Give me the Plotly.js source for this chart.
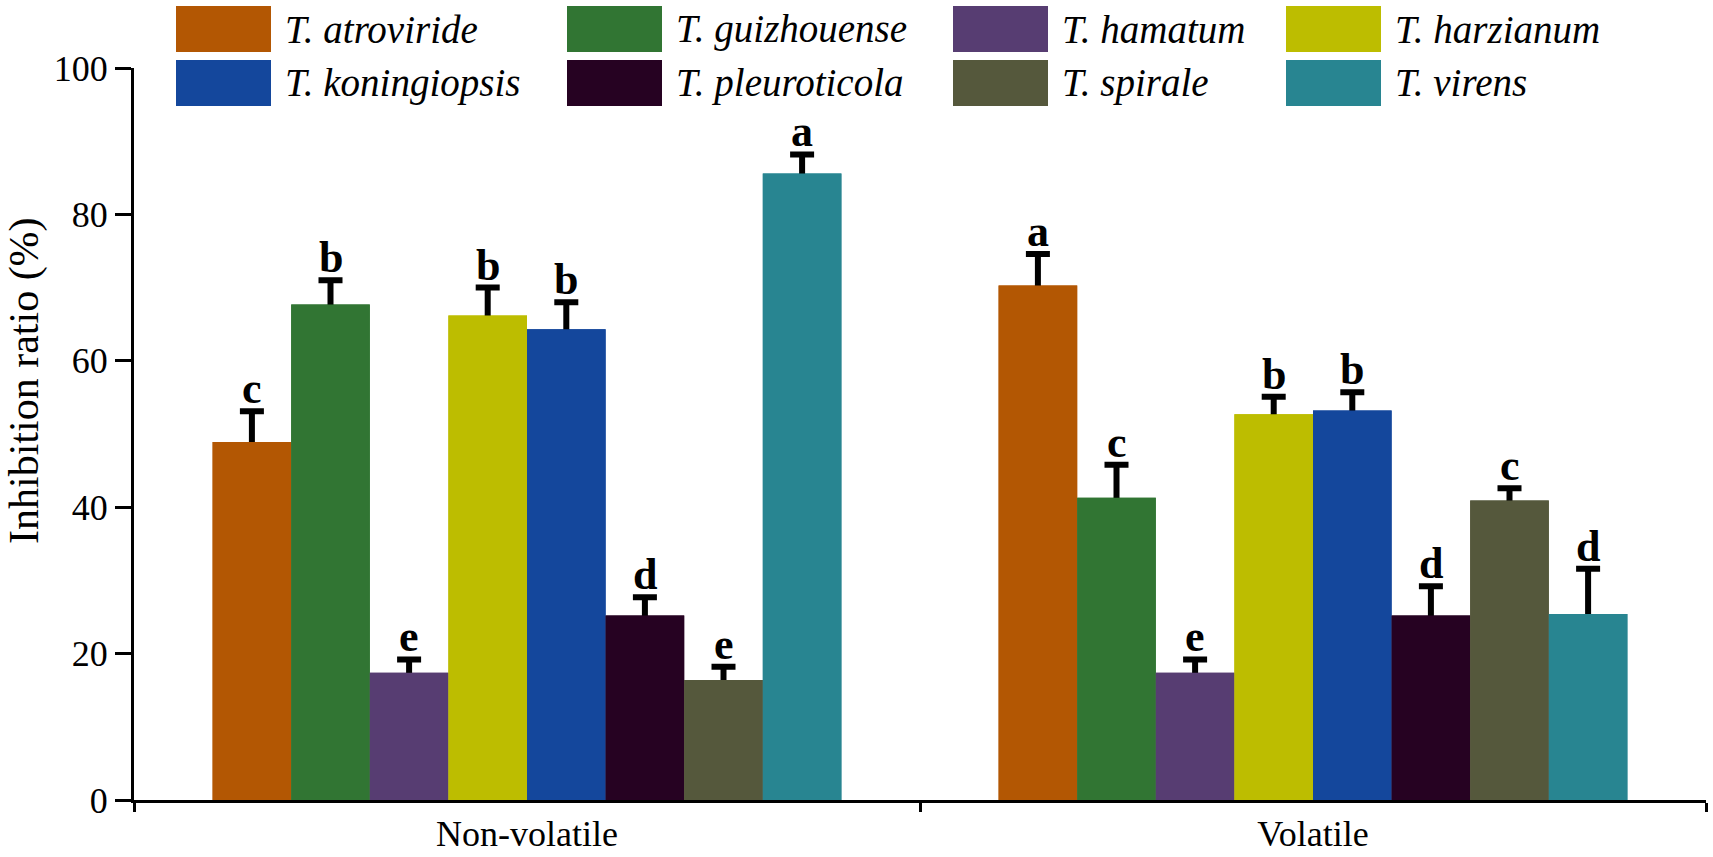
<!DOCTYPE html>
<html>
<head>
<meta charset="utf-8">
<script src="https://cdn.plot.ly/plotly-3.0.1.min.js"></script>
<style>
  html, body { margin: 0; padding: 0; background: #fff; }
  #chart { width: 1713px; height: 857px; }
</style>
</head>
<body>
<div id="chart"></div>
<script>
// data
var groups = ['Non-volatile', 'Volatile'];
var species = ['T. atroviride', 'T. guizhouense', 'T. hamatum', 'T. harzianum',
               'T. koningiopsis', 'T. pleuroticola', 'T. spirale', 'T. virens'];
var nonVolatile = [48.9, 67.7, 17.4, 66.2, 64.3, 25.2, 16.4, 85.6];
var nonVolatileErr = [4.2, 3.3, 1.8, 3.8, 3.7, 2.5, 1.8, 2.6];
var nonVolatileLetters = ['c', 'b', 'e', 'b', 'b', 'd', 'e', 'a'];
var volatile = [70.3, 41.3, 17.4, 52.7, 53.2, 25.2, 40.9, 25.4];
var volatileErr = [4.3, 4.5, 1.8, 2.4, 2.5, 4.0, 1.7, 6.2];
var volatileLetters = ['a', 'c', 'e', 'b', 'b', 'd', 'c', 'd'];
var colors = ['#B35703', '#317533', '#573D72', '#BDBD00',
              '#14479C', '#260222', '#55583C', '#288591'];

var serif = '"Liberation Serif", "Times New Roman", Times, serif';
var bargap = 0.2;

// plot area in px (used to place the hand-made legend and y title)
var M = {l: 134, r: 7, t: 68, b: 57};
var W = 1713, H = 857;
var pw = W - M.l - M.r, ph = H - M.t - M.b;
function px2x(p) { return (p - M.l) / pw; }
function px2y(p) { return (H - M.b - p) / ph; }

var traces = [];
// bars with error bars (stem runs down into the bar)
for (var i = 0; i < species.length; i++) {
    traces.push({
        type: 'bar',
        name: species[i],
        offsetgroup: 'g' + i,
        x: groups,
        y: [nonVolatile[i], volatile[i]],
        marker: {color: colors[i], line: {width: 0}},
        error_y: {
            type: 'data',
            array: [nonVolatileErr[i], volatileErr[i]],
            color: '#000',
            thickness: 6,
            width: 12
        },
        showlegend: false,
        hoverinfo: 'skip'
    });
}
// same bars again on top, hiding the lower half of each error bar
for (var i = 0; i < species.length; i++) {
    traces.push({
        type: 'bar',
        name: species[i],
        offsetgroup: 'g' + i,
        x: groups,
        y: [nonVolatile[i], volatile[i]],
        marker: {color: colors[i], line: {width: 0}},
        showlegend: false,
        hoverinfo: 'skip'
    });
}

// significance letters above each error bar
var annotations = [];
var n = species.length;
var slot = (1 - bargap) / n;
var allVals = [nonVolatile, volatile];
var allErr = [nonVolatileErr, volatileErr];
var allLetters = [nonVolatileLetters, volatileLetters];
for (var g = 0; g < groups.length; g++) {
    for (var i = 0; i < n; i++) {
        annotations.push({
            xref: 'x', yref: 'y',
            x: g + (i - (n - 1) / 2) * slot,
            y: allVals[g][i] + allErr[g][i],
            text: '<b>' + allLetters[g][i] + '</b>',
            showarrow: false,
            yanchor: 'bottom',
            yshift: -4,
            font: {family: serif, size: 44, color: '#000'}
        });
    }
}

// y title, sits a bit above the axis middle as in the figure
annotations.push({
    xref: 'paper', yref: 'paper',
    x: px2x(24), y: px2y(381),
    xanchor: 'center', yanchor: 'middle',
    textangle: -90,
    text: 'Inhibition ratio (%)',
    showarrow: false,
    font: {family: serif, size: 42, color: '#000'}
});

// legend: 2 rows x 4 columns, big swatches
var legCols = [176, 567, 953, 1286];
var legRows = [6, 60];
var swW = 95, swH = 46;
var shapes = [];
for (var i = 0; i < n; i++) {
    var c = i % 4, r = Math.floor(i / 4);
    var x0 = legCols[c], y0 = legRows[r];
    shapes.push({
        type: 'rect', xref: 'paper', yref: 'paper',
        x0: px2x(x0), x1: px2x(x0 + swW),
        y0: px2y(y0 + swH), y1: px2y(y0),
        fillcolor: colors[i], line: {width: 0}
    });
    annotations.push({
        xref: 'paper', yref: 'paper',
        x: px2x(x0 + swW + 12), y: px2y(y0 + swH / 2),
        xanchor: 'left', yanchor: 'middle',
        text: '<i>' + species[i] + '</i>',
        showarrow: false,
        font: {family: serif, size: 39, color: '#000'}
    });
}

var layout = {
    width: W, height: H,
    margin: M,
    paper_bgcolor: '#fff',
    plot_bgcolor: '#fff',
    barmode: 'group',
    bargap: bargap,
    bargroupgap: 0,
    font: {family: serif, color: '#000'},
    xaxis: {
        type: 'category',
        showline: true, linecolor: '#000', linewidth: 3,
        ticks: 'outside', tickson: 'boundaries', ticklen: 9, tickwidth: 3, tickcolor: '#000',
        tickfont: {family: serif, size: 36, color: '#000'},
        showgrid: false, zeroline: false
    },
    yaxis: {
        range: [0, 100], dtick: 20,
        showline: true, linecolor: '#000', linewidth: 3,
        ticks: 'outside', ticklen: 16, tickwidth: 3, tickcolor: '#000',
        tickfont: {family: serif, size: 36, color: '#000'},
        showgrid: false, zeroline: false
    },
    shapes: shapes,
    annotations: annotations
};

Plotly.newPlot('chart', traces, layout, {displayModeBar: false, staticPlot: true});
</script>
</body>
</html>
